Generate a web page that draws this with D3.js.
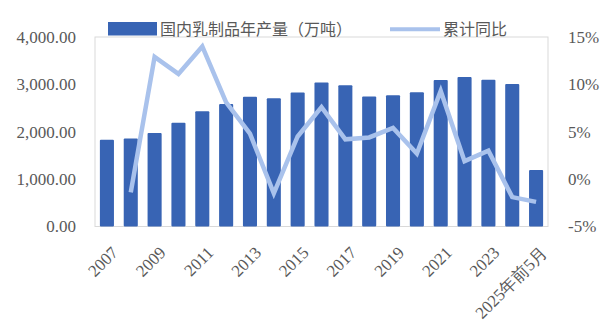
<!DOCTYPE html>
<html>
<head>
<meta charset="utf-8">
<script src="https://cdn.jsdelivr.net/npm/d3@7"></script>
<style>
  body { margin: 0; background: #fff; }
  svg text { fill: #595959; }
  .num { font-family: "Liberation Serif", "Times New Roman", serif; }
  .cjk { font-family: "Noto Sans CJK SC", sans-serif; }
</style>
</head>
<body>
<div id="viz"></div>
<script>
// categories and values
const years = ["2007", "2008", "2009", "2010", "2011", "2012", "2013", "2014", "2015", "2016",
  "2017", "2018", "2019", "2020", "2021", "2022", "2023", "2024", "2025年前5月"]
const output = [1830, 1860, 1975, 2190, 2435, 2585, 2740, 2705, 2830, 3040,
  2980, 2745, 2770, 2835, 3090, 3155, 3095, 3010, 1195]
const growth = [null, -1.4, 12.9, 11.1, 14.0, 8.1, 4.8, -1.5, 4.5, 7.6,
  4.2, 4.4, 5.4, 2.7, 9.3, 1.9, 3.0, -1.9, -2.4]
const leftTicks = [0, 1000, 2000, 3000, 4000]
const rightTicks = [-5, 0, 5, 10, 15]
const tickYears = ["2007", "2009", "2011", "2013", "2015", "2017", "2019", "2021", "2023", "2025年前5月"]

const width = 606
const height = 327
const plot = { left: 95, right: 548, top: 37, bottom: 226.5 }

const svg = d3.select("#viz").append("svg")
  .attr("width", width)
  .attr("height", height)

const x = d3.scaleBand()
  .domain(years)
  .range([plot.left, plot.right])
  .paddingInner(0.41)
  .paddingOuter(0.205)

const yLeft = d3.scaleLinear().domain([0, 4000]).range([plot.bottom, plot.top])
const yRight = d3.scaleLinear().domain([-5, 15]).range([plot.bottom, plot.top])

// plot frame
svg.append("rect")
  .attr("x", plot.left)
  .attr("y", plot.top)
  .attr("width", plot.right - plot.left)
  .attr("height", plot.bottom - plot.top)
  .attr("fill", "none")
  .attr("stroke", "#d9d9d9")
  .attr("stroke-width", 1)

// bars
svg.selectAll("rect.bar")
  .data(output)
  .enter()
  .append("rect")
  .attr("class", "bar")
  .attr("x", (d, i) => x(years[i]))
  .attr("y", d => yLeft(d))
  .attr("width", x.bandwidth())
  .attr("height", d => yLeft(0) - yLeft(d))
  .attr("rx", 1)
  .attr("fill", "#3864b4")

// line
const line = d3.line()
  .defined(d => d != null)
  .x((d, i) => x(years[i]) + x.bandwidth() / 2)
  .y(d => yRight(d))

svg.append("path")
  .datum(growth)
  .attr("d", line)
  .attr("fill", "none")
  .attr("stroke", "#a9c2ec")
  .attr("stroke-width", 4.5)

// left axis labels
const leftAxis = d3.axisLeft(yLeft)
  .tickValues(leftTicks)
  .tickFormat(d3.format(",.2f"))
  .tickSize(0)
  .tickPadding(19)

svg.append("g")
  .attr("transform", `translate(${plot.left},0)`)
  .call(leftAxis)
  .call(g => g.select(".domain").remove())
  .attr("font-family", null)
  .selectAll("text")
  .attr("class", "num")
  .style("font-size", "17px")

// right axis labels
const rightAxis = d3.axisRight(yRight)
  .tickValues(rightTicks)
  .tickFormat(d => d + "%")
  .tickSize(0)
  .tickPadding(20)

svg.append("g")
  .attr("transform", `translate(${plot.right},0)`)
  .call(rightAxis)
  .call(g => g.select(".domain").remove())
  .attr("font-family", null)
  .selectAll("text")
  .attr("class", "num")
  .style("font-size", "17px")

// x labels, rotated
svg.append("g")
  .selectAll("text")
  .data(tickYears)
  .enter()
  .append("text")
  .attr("class", "num")
  .attr("transform", d => `translate(${x(d) + x.bandwidth() / 2 + 8},${plot.bottom + 23}) rotate(-45)`)
  .attr("text-anchor", "end")
  .attr("dy", "0.35em")
  .style("font-size", "17px")
  .text(d => d)

// legend
const legend = svg.append("g")
legend.append("rect")
  .attr("x", 108).attr("y", 22)
  .attr("width", 49).attr("height", 13.5)
  .attr("fill", "#3864b4")
legend.append("text")
  .attr("class", "cjk")
  .attr("x", 160).attr("y", 29).attr("dy", "0.35em")
  .style("font-size", "16px")
  .text("国内乳制品年产量（万吨）")
legend.append("line")
  .attr("x1", 390).attr("x2", 440)
  .attr("y1", 29.3).attr("y2", 29.3)
  .attr("stroke", "#a9c2ec")
  .attr("stroke-width", 4)
legend.append("text")
  .attr("class", "cjk")
  .attr("x", 443).attr("y", 29).attr("dy", "0.35em")
  .style("font-size", "16px")
  .text("累计同比")
</script>
</body>
</html>
